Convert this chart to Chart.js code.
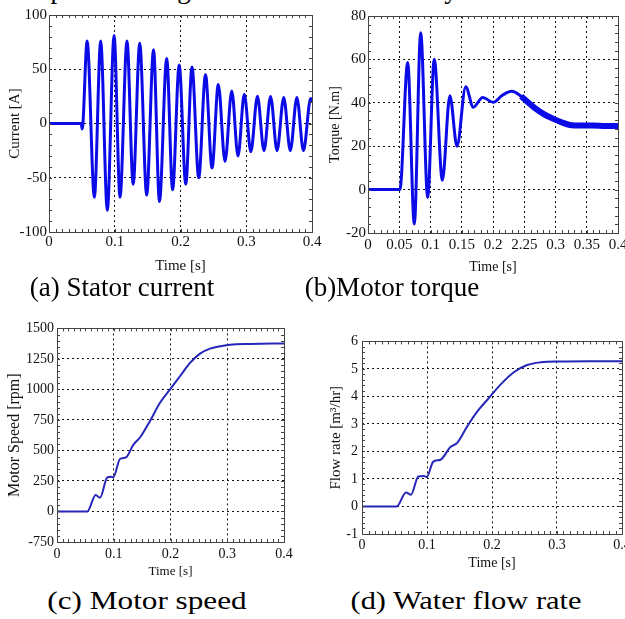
<!DOCTYPE html>
<html><head><meta charset="utf-8">
<script src="https://cdn.jsdelivr.net/npm/chart.js@4.4.0/dist/chart.umd.min.js"></script>
<style>
html,body{margin:0;padding:0;background:#fff;overflow:hidden;width:625px;height:619px;}
body{position:relative;font-family:'Liberation Serif','Times New Roman',serif;color:#000;}
.cv{position:absolute;}
.cap{position:absolute;white-space:nowrap;font-size:27px;line-height:27px;}
</style></head><body>
<div class="cap" style="left:19px;top:-24px;">response during the start of the motor by</div>
<canvas id="ca" class="cv" style="left:0px;top:4px" width="328" height="272"></canvas>
<canvas id="cb" class="cv" style="left:320px;top:5px" width="318" height="272"></canvas>
<canvas id="cc" class="cv" style="left:0px;top:317px" width="304" height="265"></canvas>
<canvas id="cd" class="cv" style="left:318px;top:329px" width="324" height="245"></canvas>
<div class="cap" style="left:122px;top:274px;transform:translateX(-50%);">(a) Stator current</div>
<div class="cap" style="left:392px;top:274px;transform:translateX(-50%);">(b)Motor torque</div>
<div class="cap" style="left:147px;top:588px;font-size:26px;line-height:26px;transform:translateX(-50%) scaleX(1.2);">(c) Motor speed</div>
<div class="cap" style="left:466px;top:588px;font-size:26px;line-height:26px;transform:translateX(-50%) scaleX(1.17);">(d) Water flow rate</div>
<script>
// ---- data ----
const currentTime = [0, 0.049, 0.0505, 0.058, 0.069, 0.0786, 0.0887, 0.099, 0.108, 0.1186, 0.128, 0.138, 0.1486, 0.159, 0.168, 0.179, 0.188, 0.198, 0.208, 0.2175, 0.2277, 0.238, 0.248, 0.2575, 0.2677, 0.278, 0.2875, 0.297, 0.307, 0.317, 0.327, 0.337, 0.3468, 0.357, 0.367, 0.377, 0.387, 0.398, 0.4];
const currentAmps = [0, 0, -5, 76, -68, 76, -80, 81, -68, 76, -56, 74, -66, 68, -72, 60, -61, 54, -56, 52, -50, 45, -41, 36, -35, 30, -30, 27, -26, 25, -25, 25, -25, 24, -25, 24, -25, 23, 20];

const torqueTime = [0, 0.051, 0.0635, 0.0741, 0.0843, 0.0955, 0.106, 0.119, 0.131, 0.1424, 0.1563, 0.1685, 0.1835, 0.2005, 0.215, 0.23, 0.245, 0.255, 0.265, 0.28, 0.2965, 0.31, 0.323, 0.34, 0.36, 0.38, 0.4];
const torqueNm = [0, 0, 58.6, -15.9, 72.3, -3.6, 60.1, 4.3, 43.3, 20, 47.4, 38, 42.5, 40.2, 43.5, 45.3, 43, 40.5, 38, 35, 32.6, 31, 29.8, 29.5, 29.5, 29.3, 29.3];

const speedTime = [0, 0.0534, 0.0682, 0.0758, 0.0886, 0.095, 0.0992, 0.111, 0.1216, 0.1344, 0.1462, 0.1639, 0.1815, 0.1991, 0.2167, 0.2344, 0.252, 0.2696, 0.287, 0.305, 0.34, 0.4];
const speedRpm = [0, 0, 136, 112, 280, 285, 280, 430, 443, 546, 606, 742, 891, 1000, 1108, 1217, 1293, 1334, 1353, 1367, 1372, 1377];

const flowTime = [0, 0.0534, 0.0677, 0.0754, 0.0866, 0.0954, 0.0995, 0.1097, 0.1208, 0.136, 0.1464, 0.1618, 0.1772, 0.1926, 0.2131, 0.2336, 0.254, 0.275, 0.3054, 0.35, 0.4];
const flowRate = [0, 0, 0.51, 0.43, 1.09, 1.11, 1.07, 1.63, 1.70, 2.16, 2.31, 2.91, 3.45, 3.87, 4.43, 4.88, 5.14, 5.24, 5.27, 5.28, 5.28];

// ---- tick labels ----
const timeTickLabels = ['0', '0.1', '0.2', '0.3', '0.4'];
const torqueTimeTickLabels = ['0', '0.05', '0.1', '0.15', '0.2', '2.25', '0.3', '0.35', '0.4'];
const currentTickLabels = ['-100', '-50', '0', '50', '100'];
const torqueTickLabels = ['-20', '0', '20', '40', '60', '80'];
const speedTickLabels = ['-750', '0', '250', '500', '750', '1000', '1250', '1500'];
const flowTickLabels = ['-1', '0', '1', '2', '3', '4', '5', '6'];

const FONT = "'Liberation Serif','Times New Roman',serif";

const framePlugin = {
  id: 'frame',
  afterDatasetsDraw(chart, args, opts) {
    const {ctx, chartArea: a} = chart;
    const x = chart.scales.x, y = chart.scales.y;
    ctx.save();
    ctx.strokeStyle = opts.color;
    ctx.lineWidth = 1;
    ctx.beginPath();
    const nx = Math.round((x.max - x.min) / opts.xMinor);
    for (let i = 0; i <= nx; i++) {
      const px = Math.round(x.getPixelForValue(x.min + i * opts.xMinor)) + 0.5;
      ctx.moveTo(px, a.bottom); ctx.lineTo(px, a.bottom - opts.len);
      ctx.moveTo(px, a.top); ctx.lineTo(px, a.top + opts.len);
    }
    const ny = Math.round((y.max - y.min) / opts.yMinor);
    for (let i = 0; i <= ny; i++) {
      const py = Math.round(y.getPixelForValue(y.min + i * opts.yMinor)) + 0.5;
      ctx.moveTo(a.left, py); ctx.lineTo(a.left + opts.len, py);
      ctx.moveTo(a.right, py); ctx.lineTo(a.right - opts.len, py);
    }
    ctx.stroke();
    ctx.strokeRect(Math.round(a.left) + 0.5, Math.round(a.top) + 0.5,
                   Math.round(a.right - a.left), Math.round(a.bottom - a.top));
    ctx.restore();
  }
};

function pts(xs, ys, from) {
  const out = [];
  xs.forEach((t, i) => { if (from === undefined || t >= from) out.push({x: t, y: ys[i]}); });
  return out;
}

function makeChart(p) {
  const datasets = p.series.map(s => ({
    data: s.data, borderColor: p.color, borderWidth: s.width,
    pointRadius: 0, cubicInterpolationMode: 'monotone', fill: false
  }));
  return new Chart(document.getElementById(p.id), {
    type: 'line',
    data: {datasets},
    plugins: [framePlugin],
    options: {
      responsive: false, animation: false, maintainAspectRatio: false,
      layout: {padding: {top: p.padTop, right: p.padRight, left: 0, bottom: 0}},
      plugins: {legend: {display: false}, tooltip: {enabled: false},
        frame: {color: '#444', len: 3, xMinor: p.xMinor, yMinor: p.yMinor}},
      scales: {
        x: {
          type: 'linear', min: p.xMin, max: p.xMax,
          afterFit: s => { s.height = p.axisH; },
          grid: {color: '#111', lineWidth: 1, drawTicks: false},
          border: {display: false, dash: [2, 3]},
          ticks: {stepSize: p.xStep, autoSkip: false, maxRotation: 0, padding: p.xTickPad,
            color: '#111', font: {family: FONT, size: p.tickSize},
            callback: (v, i) => p.xLabels[i]},
          title: {display: true, text: 'Time [s]', color: '#111',
            font: {family: FONT, size: p.xTitleSize}, padding: {top: 0, bottom: p.xTitlePad}}
        },
        y: {
          min: p.yMin, max: p.yMax,
          afterFit: s => { s.width = p.axisW; },
          grid: {color: '#111', lineWidth: 1, drawTicks: false},
          border: {display: false, dash: [2, 3]},
          ticks: {stepSize: p.yStep, autoSkip: false, padding: p.yTickPad,
            color: '#111', font: {family: FONT, size: p.tickSize},
            callback: (v, i) => p.yLabels[i]},
          title: {display: true, text: p.yTitle, color: '#111',
            font: {family: FONT, size: p.yTitleSize}, padding: {top: p.yTitlePad, bottom: 0}}
        }
      }
    }
  });
}

makeChart({
  id: 'ca', color: '#0b0be8',
  series: [{data: pts(currentTime, currentAmps), width: 3}],
  xMin: 0, xMax: 0.4, xStep: 0.1, xLabels: timeTickLabels, xMinor: 0.01,
  yMin: -100, yMax: 100, yStep: 50, yLabels: currentTickLabels, yMinor: 10,
  yTitle: 'Current [A]', tickSize: 15, xTitleSize: 15, yTitleSize: 15,
  axisW: 49, axisH: 44, padTop: 10, padRight: 16,
  xTickPad: 1, yTickPad: 2, xTitlePad: 1, yTitlePad: 6
});

makeChart({
  id: 'cb', color: '#0b0be8',
  series: [{data: pts(torqueTime, torqueNm), width: 3},
           {data: pts(torqueTime, torqueNm, 0.245), width: 6}],
  xMin: 0, xMax: 0.4, xStep: 0.05, xLabels: torqueTimeTickLabels, xMinor: 0.01,
  yMin: -20, yMax: 80, yStep: 20, yLabels: torqueTickLabels, yMinor: 4,
  yTitle: 'Torque [N.m]', tickSize: 15, xTitleSize: 14, yTitleSize: 14,
  axisW: 48, axisH: 44, padTop: 10, padRight: 20,
  xTickPad: 3, yTickPad: 2, xTitlePad: 1.6, yTitlePad: 6.6
});

makeChart({
  id: 'cc', color: '#2626b8',
  series: [{data: pts(speedTime, speedRpm), width: 2}],
  xMin: 0, xMax: 0.4, xStep: 0.1, xLabels: timeTickLabels, xMinor: 0.01,
  yMin: -250, yMax: 1500, yStep: 250, yLabels: speedTickLabels, yMinor: 50,
  yTitle: 'Motor Speed [rpm]', tickSize: 14, xTitleSize: 13, yTitleSize: 16,
  axisW: 57, axisH: 40, padTop: 10, padRight: 20,
  xTickPad: 4, yTickPad: 3, xTitlePad: 2.2, yTitlePad: 5.4
});

makeChart({
  id: 'cd', color: '#2626b8',
  series: [{data: pts(flowTime, flowRate), width: 2}],
  xMin: 0, xMax: 0.4, xStep: 0.1, xLabels: timeTickLabels, xMinor: 0.01,
  yMin: -1, yMax: 6, yStep: 1, yLabels: flowTickLabels, yMinor: 0.2,
  yTitle: 'Flow rate [m\u00B3/hr]', tickSize: 14, xTitleSize: 14, yTitleSize: 15,
  axisW: 44, axisH: 40, padTop: 10, padRight: 20,
  xTickPad: 3, yTickPad: 4, xTitlePad: 2.6, yTitlePad: 9
});
</script>
</body></html>
